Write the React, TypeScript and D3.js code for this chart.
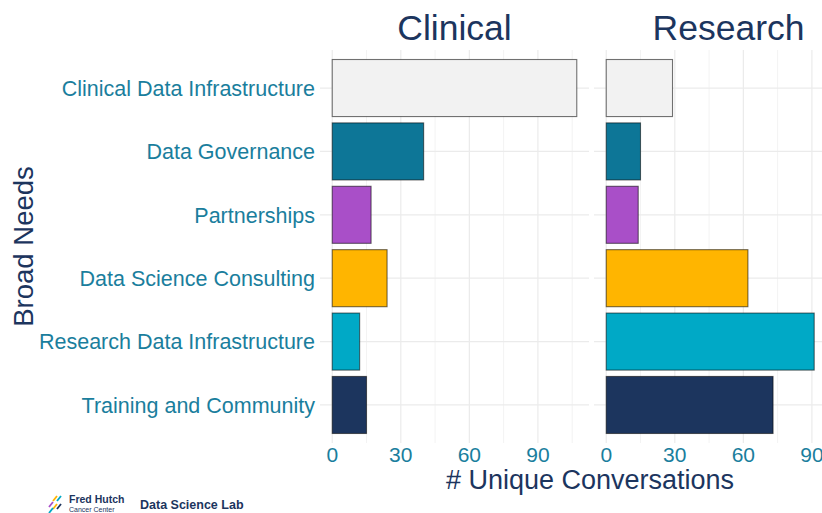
import { useRef, useEffect } from 'react';
import * as d3 from 'd3';

const categories = [
  'Clinical Data Infrastructure',
  'Data Governance',
  'Partnerships',
  'Data Science Consulting',
  'Research Data Infrastructure',
  'Training and Community',
];
const clinicalValues = [107, 40, 17, 24, 12, 15];
const researchValues = [29, 15, 14, 62, 91, 73];
const panelNames = ['Clinical', 'Research'];
const barColors = ['#F2F2F2', '#0D7697', '#A94FC8', '#FFB500', '#00A9C6', '#1C355E'];
const xTicks = [0, 30, 60, 90];
const xMinorTicks = [15, 45, 75, 105];

const NAVY = '#1C355E';
const TEAL = '#1A7E9D';
const FONT = '"Liberation Sans", Arial, Helvetica, sans-serif';

const App = () => {
  const svgRef = useRef(null);

  useEffect(() => {
    if (!svgRef.current) return;
    const svg = d3.select(svgRef.current);
    svg.selectAll('*').remove();

    const width = 822;
    const height = 513;
    const top = 50;
    const bottom = 443;
    const leftStart = 320;
    const panelW = 269;
    const gap = 5;

    const seriesList = [clinicalValues, researchValues];
    // fixed x scale shared by both facets
    const xMax = d3.max(seriesList.flat());
    const ext = xMax * 0.05;

    const y = d3.scaleBand()
      .domain(categories)
      .range([top, bottom])
      .paddingInner(0.1)
      .paddingOuter(0.15);

    seriesList.forEach((values, p) => {
      const x0 = leftStart + p * (panelW + gap);
      const x = d3.scaleLinear()
        .domain([-ext, xMax + ext])
        .range([x0, x0 + panelW]);

      const g = svg.append('g');

      // grid
      g.selectAll('.minor')
        .data(xMinorTicks)
        .enter().append('line')
        .attr('x1', d => x(d)).attr('x2', d => x(d))
        .attr('y1', top).attr('y2', bottom)
        .attr('stroke', '#EBEBEB').attr('stroke-width', 0.6);

      g.selectAll('.major')
        .data(xTicks)
        .enter().append('line')
        .attr('x1', d => x(d)).attr('x2', d => x(d))
        .attr('y1', top).attr('y2', bottom)
        .attr('stroke', '#EBEBEB').attr('stroke-width', 1.2);

      g.selectAll('.hgrid')
        .data(categories)
        .enter().append('line')
        .attr('x1', x0).attr('x2', x0 + panelW)
        .attr('y1', d => y(d) + y.bandwidth() / 2)
        .attr('y2', d => y(d) + y.bandwidth() / 2)
        .attr('stroke', '#EBEBEB').attr('stroke-width', 1.2);

      // bars
      g.selectAll('.bar')
        .data(values)
        .enter().append('rect')
        .attr('x', x(0))
        .attr('y', (d, i) => y(categories[i]))
        .attr('width', d => x(d) - x(0))
        .attr('height', y.bandwidth())
        .attr('fill', (d, i) => barColors[i])
        .attr('stroke', 'rgba(0,0,0,0.55)')
        .attr('stroke-width', 1.1);

      // tick labels
      g.selectAll('.tick')
        .data(xTicks)
        .enter().append('text')
        .attr('x', d => x(d))
        .attr('y', 462)
        .attr('text-anchor', 'middle')
        .attr('font-family', FONT)
        .attr('font-size', 21)
        .attr('fill', TEAL)
        .text(d => d);

      // strip title
      g.append('text')
        .attr('x', x0 + panelW / 2)
        .attr('y', 40)
        .attr('text-anchor', 'middle')
        .attr('font-family', FONT)
        .attr('font-size', 35.5)
        .attr('fill', NAVY)
        .text(panelNames[p]);
    });

    // y labels
    svg.append('g')
      .selectAll('text')
      .data(categories)
      .enter().append('text')
      .attr('x', 315)
      .attr('y', d => y(d) + y.bandwidth() / 2)
      .attr('dy', '0.36em')
      .attr('text-anchor', 'end')
      .attr('font-family', FONT)
      .attr('font-size', 21.5)
      .attr('fill', TEAL)
      .text(d => d);

    // axis titles
    svg.append('text')
      .attr('x', 590)
      .attr('y', 489)
      .attr('text-anchor', 'middle')
      .attr('font-family', FONT)
      .attr('font-size', 27)
      .attr('fill', NAVY)
      .text('# Unique Conversations');

    svg.append('text')
      .attr('transform', `translate(33,${(top + bottom) / 2}) rotate(-90)`)
      .attr('text-anchor', 'middle')
      .attr('font-family', FONT)
      .attr('font-size', 27.5)
      .attr('fill', NAVY)
      .text('Broad Needs');

    // logo
    const logo = svg.append('g').attr('transform', 'translate(48,494)');
    const slashes = [
      { x: 1, y: 8, c: '#A94FC8' },
      { x: 5, y: 2, c: '#FFB500' },
      { x: 9, y: 2, c: '#00A9C6' },
      { x: 5, y: 10, c: '#FFB500' },
      { x: 1, y: 14, c: '#00A9C6' },
      { x: 9, y: 10, c: NAVY },
    ];
    logo.selectAll('line')
      .data(slashes)
      .enter().append('line')
      .attr('x1', d => d.x).attr('y1', d => d.y + 5)
      .attr('x2', d => d.x + 4).attr('y2', d => d.y)
      .attr('stroke', d => d.c)
      .attr('stroke-width', 1.8);
    logo.append('text')
      .attr('x', 21).attr('y', 9)
      .attr('font-family', FONT).attr('font-weight', 'bold')
      .attr('font-size', 10.5).attr('fill', NAVY)
      .text('Fred Hutch');
    logo.append('text')
      .attr('x', 21).attr('y', 17.5)
      .attr('font-family', FONT)
      .attr('font-size', 7).attr('fill', NAVY)
      .text('Cancer Center');
    svg.append('text')
      .attr('x', 140).attr('y', 509)
      .attr('font-family', FONT).attr('font-weight', 'bold')
      .attr('font-size', 12.5).attr('fill', NAVY)
      .text('Data Science Lab');

    svg.attr('width', width).attr('height', height);
  }, []);

  return (
    <div style={{ position: 'absolute', left: 0, top: 0, width: 822, height: 513, background: '#fff', overflow: 'hidden' }}>
      <svg ref={svgRef} style={{ display: 'block', overflow: 'hidden' }} />
    </div>
  );
};

export default App;
